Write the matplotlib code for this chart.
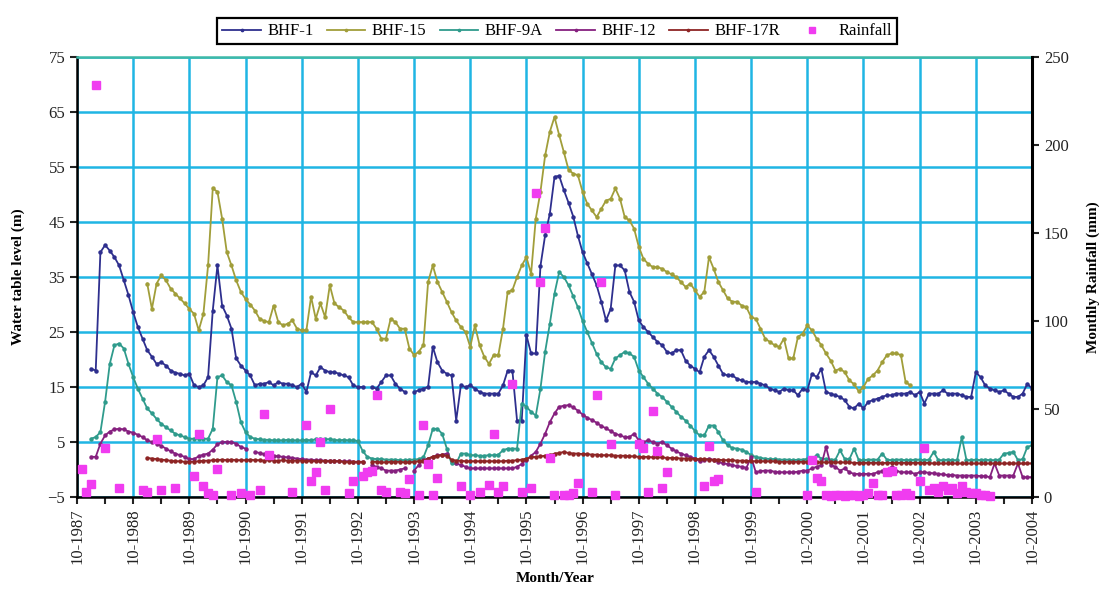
import numpy as np
import matplotlib
matplotlib.use("Agg")
import matplotlib.pyplot as plt

nan = np.nan

# monthly readings, one row per year starting in October 1987 (month 0) up to October 2004 (month 204)
bhf1 = [
    nan, nan, nan, 18.3, 18.0, 39.5, 40.8, 39.8, 38.6, 37.1, 34.4, 31.7,
    28.6, 25.9, 23.8, 21.7, 20.5, 19.2, 19.5, 18.9, 18.0, 17.6, 17.4, 17.1,
    17.4, 15.3, 15.0, 15.3, 16.8, 28.9, 37.1, 29.8, 28.0, 25.6, 20.2, 18.9,
    18.0, 17.1, 15.3, 15.6, 15.6, 15.9, 15.3, 15.9, 15.6, 15.6, 15.3, 15.0,
    15.6, 14.1, 17.7, 17.1, 18.6, 18.0, 17.7, 17.7, 17.4, 17.1, 16.8, 15.3,
    15.0, 15.0, nan, 15.0, 14.7, 15.9, 17.1, 17.1, 15.6, 14.7, 14.1, nan,
    14.1, 14.4, 14.7, 15.0, 22.3, 19.5, 18.0, 17.4, 17.1, 8.9, 15.3, 15.0,
    15.3, 14.7, 14.1, 13.8, 13.8, 13.8, 13.8, 15.3, 18.0, 18.0, 8.9, 8.9,
    24.4, 21.1, 21.1, 37.0, 42.6, 46.5, 53.2, 53.4, 50.8, 48.5, 46.0, 42.5,
    39.5, 37.5, 35.5, 33.5, 30.5, 27.1, 29.2, 37.1, 37.1, 36.2, 32.3, 30.5,
    27.1, 25.9, 25.0, 24.1, 23.2, 22.6, 21.4, 21.1, 21.7, 21.7, 19.8, 18.9,
    18.3, 17.7, 20.5, 21.7, 20.5, 18.9, 17.4, 17.1, 17.1, 16.5, 16.2, 15.9,
    15.9, 15.9, 15.6, 15.3, 14.7, 14.4, 14.1, 14.7, 14.4, 14.4, 13.5, 14.7,
    14.4, 17.4, 16.8, 18.3, 14.1, 13.8, 13.5, 13.2, 12.6, 11.4, 11.1, 12.0,
    11.1, 12.3, 12.6, 12.9, 13.2, 13.5, 13.5, 13.8, 13.8, 13.8, 14.1, 13.5,
    14.1, 12.0, 13.8, 13.8, 13.8, 14.4, 13.8, 13.8, 13.8, 13.5, 13.2, 13.2,
    17.7, 16.8, 15.3, 14.7, 14.4, 14.1, 14.4, 13.8, 13.2, 13.2, 13.8, 15.6,
    14.7,
]

bhf15 = [
    nan, nan, nan, nan, nan, nan, nan, nan, nan, nan, nan, nan,
    nan, nan, nan, 33.8, 29.2, 33.8, 35.3, 34.4, 32.9, 32.0, 31.1, 30.2,
    29.2, 28.3, 25.3, 28.3, 37.1, 51.1, 50.5, 45.6, 39.5, 37.1, 34.4, 32.3,
    31.0, 30.0, 28.9, 27.4, 27.0, 26.8, 29.8, 26.8, 26.2, 26.5, 27.1, 25.6,
    25.3, 25.3, 31.4, 27.4, 30.2, 27.7, 33.5, 30.2, 29.5, 28.9, 27.7, 26.8,
    26.8, 26.8, 26.8, 26.8, 25.6, 23.8, 23.8, 27.4, 26.8, 25.6, 25.6, 22.0,
    20.8, 21.4, 22.6, 34.1, 37.1, 34.1, 32.3, 30.5, 28.6, 27.1, 25.9, 25.0,
    22.3, 26.2, 22.6, 20.5, 19.2, 20.8, 20.8, 25.6, 32.3, 32.6, 35.0, 37.1,
    38.6, 35.6, 45.6, 50.5, 57.1, 61.4, 64.1, 60.8, 57.7, 54.5, 53.8, 53.5,
    50.5, 48.3, 47.1, 45.9, 47.4, 48.9, 49.2, 51.1, 49.2, 45.9, 45.3, 43.8,
    40.5, 38.3, 37.4, 36.8, 36.8, 36.5, 35.9, 35.5, 35.0, 34.1, 33.2, 33.8,
    32.6, 31.4, 32.3, 38.6, 36.5, 34.1, 32.6, 31.1, 30.5, 30.5, 29.8, 29.5,
    27.7, 27.4, 25.6, 23.8, 23.2, 22.6, 22.3, 23.8, 20.2, 20.2, 24.1, 24.7,
    26.2, 25.3, 23.8, 22.6, 21.1, 19.8, 18.0, 18.3, 17.7, 16.2, 15.5, 14.2,
    15.0, 16.5, 17.1, 18.0, 19.5, 20.8, 21.1, 21.1, 20.8, 15.9, 15.3, nan,
    nan, nan, nan, nan, nan, nan, nan, nan, nan, nan, nan, nan,
    nan, nan, nan, nan, nan, nan, nan, nan, nan, nan, nan, nan,
    nan,
]

bhf9a = [
    nan, nan, nan, 5.6, 5.9, 6.8, 12.3, 19.2, 22.6, 22.9, 22.0, 19.2,
    16.8, 14.7, 12.9, 11.1, 10.2, 9.2, 8.3, 7.7, 7.1, 6.5, 6.2, 5.9,
    5.6, 5.6, 5.6, 5.6, 5.6, 7.4, 16.8, 17.1, 15.9, 15.3, 12.3, 8.6,
    6.8, 5.9, 5.6, 5.5, 5.4, 5.4, 5.3, 5.3, 5.3, 5.4, 5.3, 5.3,
    5.3, 5.4, 5.3, 5.5, 5.6, 5.5, 5.5, 5.4, 5.3, 5.4, 5.3, 5.3,
    5.2, 3.4, 2.3, 2.0, 1.9, 1.9, 1.8, 1.8, 1.8, 1.7, 1.7, 1.8,
    1.8, 1.9, 2.2, 4.4, 7.4, 7.4, 6.5, 3.8, 1.1, 1.1, 2.9, 2.9,
    2.6, 2.6, 2.5, 2.5, 2.6, 2.6, 2.7, 3.5, 3.8, 3.8, 3.8, 12.0,
    11.4, 10.5, 9.8, 14.7, 21.4, 26.5, 32.0, 35.9, 35.0, 33.5, 31.5, 29.5,
    27.0, 25.0, 23.0, 21.0, 19.5, 18.6, 18.3, 20.2, 20.8, 21.4, 21.1, 20.5,
    18.0, 16.8, 15.6, 14.7, 13.8, 13.2, 12.3, 11.4, 10.5, 9.6, 8.9, 8.0,
    7.0, 6.2, 6.2, 8.0, 8.0, 6.8, 5.3, 4.4, 3.9, 3.8, 3.6, 3.2,
    2.6, 2.3, 2.1, 2.0, 1.9, 1.9, 1.8, 1.8, 1.8, 1.7, 1.8, 1.8,
    1.9, 2.0, 2.6, 2.0, 1.9, 1.8, 1.8, 3.5, 1.9, 1.9, 3.8, 1.7,
    1.7, 1.8, 1.8, 1.8, 2.9, 1.8, 1.7, 1.8, 1.8, 1.7, 1.7, 1.8,
    1.8, 1.7, 1.8, 3.2, 1.7, 1.7, 1.8, 1.7, 1.7, 5.9, 1.7, 1.7,
    1.8, 1.7, 1.8, 1.7, 1.7, 1.8, 2.9, 3.0, 3.2, 1.7, 1.9, 4.1,
    4.4,
]

bhf12 = [
    nan, nan, nan, 2.3, 2.3, 4.7, 6.2, 6.9, 7.3, 7.4, 7.3, 6.9,
    6.7, 6.3, 5.9, 5.3, 5.0, 4.7, 4.3, 3.8, 3.3, 2.9, 2.6, 2.3,
    1.9, 1.9, 2.4, 2.7, 2.9, 3.6, 4.6, 5.0, 5.0, 5.0, 4.7, 4.1,
    3.8, nan, 3.2, 3.0, 2.8, 2.6, 2.5, 2.4, 2.3, 2.2, 2.1, 2.0,
    1.9, 1.8, 1.8, 1.7, 1.7, 1.6, 1.6, 1.6, 1.5, 1.5, 1.5, 1.4,
    1.4, 1.4, nan, 0.8, 0.5, 0.2, -0.2, -0.2, -0.2, 0.0, 0.2, nan,
    -0.2, 0.8, 1.7, 2.0, 2.3, 2.6, 2.7, 2.9, nan, 1.1, 0.8, 0.5,
    0.2, 0.2, 0.2, 0.2, 0.2, 0.2, 0.2, 0.2, 0.2, 0.2, 0.5, 1.0,
    1.8, 2.5, 3.2, 4.7, 6.5, 8.6, 10.2, 11.4, 11.6, 11.7, 11.3, 10.7,
    10.0, 9.4, 9.0, 8.5, 7.9, 7.5, 7.0, 6.5, 6.2, 5.9, 5.9, 6.5,
    5.3, 5.0, 5.3, 5.0, 4.7, 5.0, 4.4, 3.8, 3.3, 2.9, 2.6, 2.3,
    2.0, 1.5, 1.7, 2.0, 1.7, 1.4, 1.1, 1.0, 0.8, 0.6, 0.5, 0.3,
    2.3, -0.5, -0.3, -0.2, -0.2, -0.4, -0.5, -0.5, -0.5, -0.5, -0.4, -0.2,
    -0.2, 0.2, 0.5, 0.8, 4.1, 0.8, 0.5, -0.2, 0.2, -0.5, -0.8, -0.8,
    -0.8, -0.8, -0.8, -0.5, -0.3, -0.2, 0.5, -0.2, -0.5, -0.5, -0.5, -0.8,
    -0.5, -0.5, -0.6, -0.7, -0.8, -0.9, -1.0, -1.0, -1.1, -1.1, -1.1, -1.1,
    -1.1, -1.2, -1.2, -1.4, 1.1, -1.1, -1.1, -1.1, -1.1, 1.1, -1.4, -1.4,
    -1.4,
]

bhf17r = [
    nan, nan, nan, nan, nan, nan, nan, nan, nan, nan, nan, nan,
    nan, nan, nan, 2.1, 2.0, 1.9, 1.8, 1.7, 1.6, 1.5, 1.5, 1.4,
    1.4, 1.4, 1.5, 1.6, 1.6, 1.7, 1.7, 1.8, 1.7, 1.8, 1.7, 1.7,
    1.7, 1.8, 1.7, 1.7, 1.6, 1.7, 1.6, 1.6, 1.7, 1.6, 1.6, 1.6,
    1.6, 1.5, 1.6, 1.5, 1.5, 1.6, 1.5, 1.5, 1.5, 1.4, 1.4, 1.4,
    1.4, 1.4, nan, 1.4, 1.4, 1.3, 1.3, 1.4, 1.4, 1.4, 1.3, 1.3,
    1.4, 1.5, 1.6, 2.0, 2.3, 2.5, 2.6, 2.5, 1.8, 1.6, 1.6, 1.5,
    1.5, 1.5, 1.5, 1.5, 1.5, 1.5, 1.5, 1.5, 1.6, 1.6, 1.7, 1.8,
    2.0, 2.2, 2.3, 2.4, 2.5, 2.6, 2.9, 3.0, 3.2, 3.0, 2.9, 2.9,
    2.8, 2.8, 2.7, 2.7, 2.6, 2.6, 2.6, 2.5, 2.5, 2.5, 2.4, 2.4,
    2.3, 2.3, 2.3, 2.2, 2.2, 2.2, 2.1, 2.1, 2.1, 2.0, 2.0, 2.0,
    1.9, 1.9, 1.9, 1.8, 1.8, 1.8, 1.7, 1.7, 1.7, 1.6, 1.6, 1.6,
    1.5, 1.5, 1.5, 1.5, 1.5, 1.5, 1.4, 1.4, 1.4, 1.4, 1.4, 1.4,
    1.4, 1.4, 1.3, 1.3, 1.3, 1.3, 1.3, 1.3, 1.3, 1.3, 1.2, 1.2,
    1.2, 1.2, 1.2, 1.2, 1.2, 1.2, 1.2, 1.2, 1.2, 1.2, 1.2, 1.2,
    1.2, 1.2, 1.2, 1.1, 1.1, 1.1, 1.1, 1.1, 1.1, 1.1, 1.1, 1.1,
    1.1, 1.1, 1.1, 1.1, 1.1, 1.1, 1.1, 1.1, 1.1, 1.1, 1.1, 1.1,
    1.1,
]

rainfall = [
    nan, 16, 3, 7.5, 234, nan, 28, nan, nan, 5, nan, nan,
    nan, nan, 4, 3, nan, 33, 4, nan, nan, 5, nan, nan,
    nan, 12, 36, 6, 2, 1, 16, nan, nan, 1, nan, 2,
    nan, 1, nan, 4, 47, 24, nan, nan, nan, nan, 3, nan,
    nan, 41, 9, 14, 31, 4, 50, nan, nan, nan, 2, 9,
    nan, 12, 14, 15, 58, 4, 3, nan, nan, 3, 2, 10,
    nan, 1, 41, 19, 1, 11, nan, nan, nan, nan, 6, nan,
    1, nan, 3, nan, 7, 36, 3, 6, nan, 64, nan, 3,
    nan, 5, 173, 122, 153, 22, 1, nan, 1, 1, 2, 8,
    nan, nan, 3, 58, 122, nan, 30, 1, nan, nan, nan, nan,
    30, 28, 3, 49, 26, 5, 14, nan, nan, nan, nan, nan,
    nan, nan, 6, 29, 9, 10, nan, nan, nan, nan, nan, nan,
    nan, 3, nan, nan, nan, nan, nan, nan, nan, nan, nan, nan,
    1, 21, 11, 9, 1, 0.5, 1, 1, 0.5, 1, 1, 0.5,
    1, 2, 8, 1, 1, 14, 15, 1, 1, 2, 1, nan,
    9, 28, 4, 5, 3, 6, 4, 5, 2, 6, 3, 2,
    2, 1, 1, 0.5, nan, nan, nan, nan, nan, nan, nan, nan,
    nan,
]

wells = [
    ("BHF-1", bhf1, "#2E2F8E"),
    ("BHF-15", bhf15, "#A19E3A"),
    ("BHF-9A", bhf9a, "#2F9B8C"),
    ("BHF-12", bhf12, "#86207F"),
    ("BHF-17R", bhf17r, "#8E2424"),
]
year_labels = ["10-%d" % y for y in range(1987, 2005)]

months = np.arange(205)
for name, vals, _ in wells:
    assert len(vals) == 205, name
assert len(rainfall) == 205

plt.rcParams["font.family"] = ["Liberation Serif", "DejaVu Serif"]
plt.rcParams["font.size"] = 12

fig = plt.figure(figsize=(11.09, 5.91), dpi=100)
W, H = 1109, 591
ax = fig.add_axes([77 / W, 1 - 497 / H, (1032 - 77) / W, (497 - 57) / H])
ax2 = ax.twinx()

handles = []
for name, vals, color in wells:
    h, = ax.plot(months, np.array(vals, dtype=float), color=color, lw=1.3,
                 marker="o", ms=2.2, label=name, zorder=3)
    handles.append(h)

hr, = ax2.plot(months, np.array(rainfall, dtype=float), ls="none", marker="s",
               ms=6, color="#F03CF0", mec="#F03CF0", label="Rainfall",
               clip_on=False, zorder=4)
handles.append(hr)

ax.set_xlim(0, 204)
ax.set_ylim(-5, 75)
ax2.set_ylim(0, 250)

ax.set_yticks(np.arange(-5, 76, 10))
ax.set_xticks(np.arange(0, 205, 12))
ax.set_xticks(np.arange(0, 205, 6), minor=True)
ax.set_xticklabels(year_labels, rotation=90)
ax2.set_yticks(np.arange(0, 251, 50))

ax.set_axisbelow(True)
ax.grid(True, which="major", color="#1FB5E4", lw=1.8)

for sp in ("left", "bottom"):
    ax.spines[sp].set_linewidth(1.8)
    ax.spines[sp].set_color("black")
ax.spines["right"].set_visible(False)
ax.spines["top"].set_color("#3DB9A8")
ax.spines["top"].set_linewidth(1.8)
for sp in ("left", "bottom", "top"):
    ax2.spines[sp].set_visible(False)
ax2.spines["right"].set_linewidth(2.2)
ax2.spines["right"].set_color("black")

ax.tick_params(axis="both", which="both", direction="out", length=5, width=1.5,
               labelsize=12, colors="#222222")
ax2.tick_params(axis="y", direction="out", length=5, width=1.5, labelsize=12,
                colors="#222222")

fig.text(18 / W, 1 - 277 / H, "Water table level (m)", rotation=90,
         ha="center", va="center", fontsize=11, fontweight="bold")
fig.text(1093 / W, 1 - 277 / H, "Monthly Rainfall (mm)", rotation=90,
         ha="center", va="center", fontsize=11, fontweight="bold")
fig.text(555 / W, 1 - 578 / H, "Month/Year", ha="center", va="center",
         fontsize=11, fontweight="bold")

leg = fig.legend(handles, [h.get_label() for h in handles], loc="upper center",
                 bbox_to_anchor=(557 / W, 1 - 10 / H), ncol=6, frameon=True,
                 fancybox=False, edgecolor="black", fontsize=12,
                 handlelength=2.3, columnspacing=0.8, handletextpad=0.4,
                 borderpad=0.3, framealpha=1, markerscale=0.75)
leg.get_frame().set_linewidth(1.6)

fig.savefig("out.png", dpi=100)
